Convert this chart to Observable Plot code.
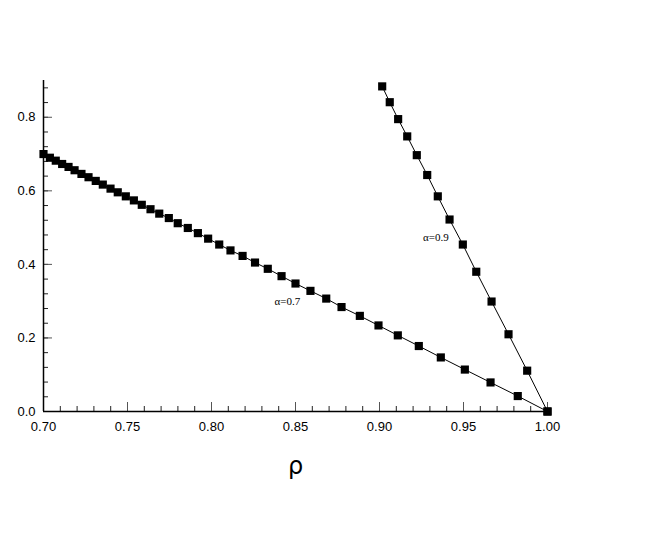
<!DOCTYPE html>
<html>
<head>
<meta charset="utf-8">
<script src="https://cdn.jsdelivr.net/npm/d3@7"></script>
<script src="https://cdn.jsdelivr.net/npm/@observablehq/plot@0.6"></script>
<style>
  html, body { margin: 0; padding: 0; background: #fff; }
  #chart { width: 664px; height: 548px; }
</style>
</head>
<body>
<div id="chart"></div>
<script>
// α = 0.7 series
const rho07 = [0.700, 0.7038, 0.7073, 0.7111, 0.7149, 0.7185, 0.7226, 0.7268, 0.7311, 0.7353,
  0.7399, 0.7442, 0.7490, 0.7538, 0.7585, 0.7637, 0.7689, 0.7746, 0.7799, 0.7859,
  0.7919, 0.7980, 0.8046, 0.8113, 0.8185, 0.8259, 0.8335, 0.8417, 0.8500, 0.8589,
  0.8683, 0.8774, 0.8883, 0.8994, 0.9109, 0.9234, 0.9365, 0.9508, 0.9661, 0.9823, 1.000];
const val07 = [0.700, 0.690, 0.682, 0.673, 0.665, 0.656, 0.646, 0.637, 0.627, 0.617,
  0.606, 0.596, 0.585, 0.574, 0.562, 0.550, 0.538, 0.526, 0.512, 0.499,
  0.485, 0.470, 0.454, 0.438, 0.423, 0.405, 0.388, 0.368, 0.348, 0.328,
  0.307, 0.284, 0.260, 0.234, 0.207, 0.178, 0.147, 0.114, 0.079, 0.042, 0.000];
// α = 0.9 series
const rho09 = [0.9016, 0.9061, 0.9111, 0.9165, 0.9222, 0.9284, 0.9347, 0.9417, 0.9496, 0.9576,
  0.9667, 0.9768, 0.9879, 1.000];
const val09 = [0.884, 0.841, 0.795, 0.748, 0.697, 0.643, 0.585, 0.522, 0.454, 0.380,
  0.299, 0.210, 0.111, 0.000];
// annotations
const labelText = ["\u03b1=0.7", "\u03b1=0.9"];
const labelRho = [0.8452, 0.9336];
const labelVal = [0.299, 0.472];
// ticks
const xMajor = [0.70, 0.75, 0.80, 0.85, 0.90, 0.95, 1.00];
const xMinor = d3.range(0, 31).map(i => +(0.70 + i * 0.01).toFixed(2));
const yMajor = [0.0, 0.2, 0.4, 0.6, 0.8];
const yMinor = d3.range(0, 23).map(i => +(i * 0.04).toFixed(2));

const s07 = rho07.map((x, i) => ({x, y: val07[i]}));
const s09 = rho09.map((x, i) => ({x, y: val09[i]}));
const labels = labelText.map((t, i) => ({t, x: labelRho[i], y: labelVal[i]}));

const W = 664, H = 548, mL = 43, mR = 117, mT = 80, mB = 137;
const plotH = H - mT - mB, plotW = W - mL - mR;

const chart = Plot.plot({
  width: W,
  height: H,
  marginLeft: mL,
  marginRight: mR,
  marginTop: mT,
  marginBottom: mB,
  style: {fontFamily: "'Liberation Sans', Arial, sans-serif", fontSize: "13px", color: "#000", background: "#fff", overflow: "visible"},
  x: {domain: [0.7, 1.0]},
  y: {domain: [0, 0.9]},
  marks: [
    Plot.axisX({ticks: xMajor, tickFormat: d3.format(".2f"), tickSize: 0, tickPadding: 10, label: null, fontSize: 13}),
    Plot.axisY({ticks: yMajor, tickFormat: d3.format(".1f"), tickSize: 0, tickPadding: 8, label: null, fontSize: 13}),
    // inward ticks
    Plot.ruleX(xMinor, {x: d => d, insetTop: plotH - 5, stroke: "#222", strokeWidth: 1}),
    Plot.ruleX(xMajor, {x: d => d, insetTop: plotH - 9, stroke: "#555", strokeWidth: 1}),
    Plot.ruleY(yMinor, {y: d => d, insetRight: plotW - 5, stroke: "#222", strokeWidth: 1}),
    Plot.ruleY(yMajor, {y: d => d, insetRight: plotW - 9, stroke: "#555", strokeWidth: 1}),
    // axis lines
    Plot.ruleY([0], {stroke: "#000", strokeWidth: 1.5}),
    Plot.ruleX([0.7], {stroke: "#000", strokeWidth: 1.5}),
    // series
    Plot.line(s07, {x: "x", y: "y", stroke: "#000", strokeWidth: 1}),
    Plot.line(s09, {x: "x", y: "y", stroke: "#000", strokeWidth: 1}),
    Plot.dot(s07, {x: "x", y: "y", symbol: "square", r: 4.6, fill: "#000", stroke: "none"}),
    Plot.dot(s09, {x: "x", y: "y", symbol: "square", r: 4.6, fill: "#000", stroke: "none"}),
    Plot.text(labels, {x: "x", y: "y", text: "t", fontFamily: "'Liberation Serif', 'Times New Roman', serif", fontSize: 11, fill: "#000"}),
    Plot.text(["\u03c1"], {frameAnchor: "bottom", dy: 62, fontSize: 24, fill: "#000", fontFamily: "'DejaVu Sans', 'Liberation Sans', sans-serif"})
  ]
});
document.getElementById("chart").appendChild(chart);
</script>
</body>
</html>
